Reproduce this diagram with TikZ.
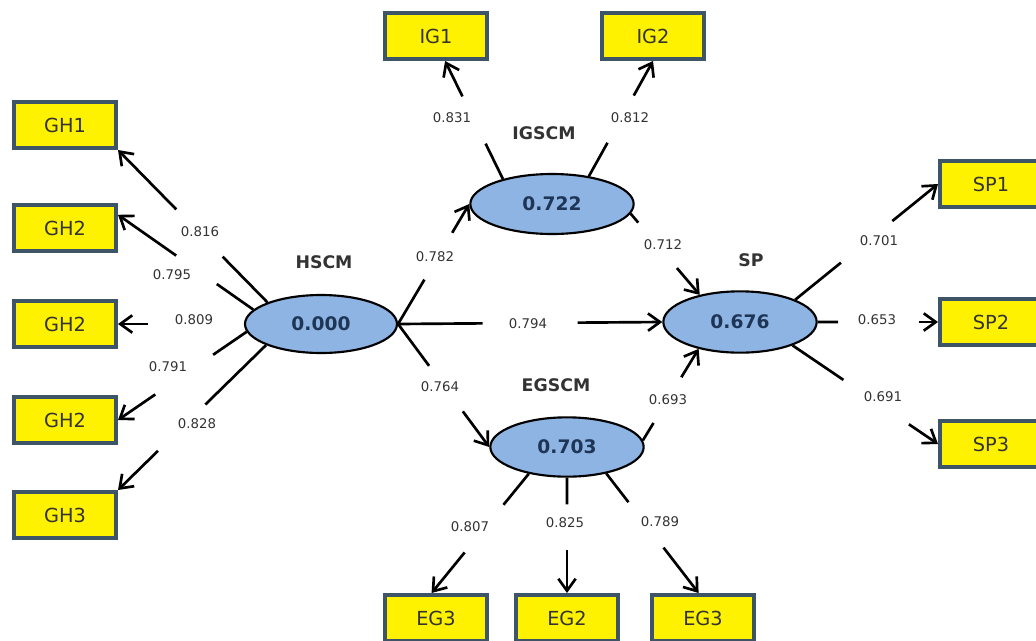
\documentclass[tikz,border=0pt]{standalone}
\usepackage{fontspec}
\setmainfont{DejaVu Sans}
\usepackage{tikz}
\usetikzlibrary{arrows.meta,shapes.geometric,calc}

\definecolor{boxline}{HTML}{3E5568}
\definecolor{latfill}{HTML}{8DB4E2}
\definecolor{latnum}{HTML}{1F3556}
\definecolor{txt}{HTML}{333333}

\newcommand{\gaplink}[4]{%
  \draw[link] (#1) -- ($(#1)!#3!(#2)$);
  \draw[link,->] ($(#1)!#4!(#2)$) -- (#2);}

\begin{document}
\begin{tikzpicture}[x=0.75pt,y=-0.75pt,
  >={Straight Barb[length=9pt,width=13pt]},
  box/.style={draw=boxline, fill=yellow, line width=3pt, minimum width=76.5pt,
    minimum height=34.5pt, inner sep=0pt, text=txt, font=\fontsize{14.5}{16}\selectfont},
  latent/.style={ellipse, draw=black, line width=1.6pt, fill=latfill, inner sep=0pt,
    text=latnum, font=\bfseries\fontsize{14}{16}\selectfont},
  latname/.style={text=txt, font=\bfseries\fontsize{13}{15}\selectfont},
  coef/.style={inner sep=0pt, text=txt, font=\fontsize{10}{12}\selectfont},
  link/.style={line width=2pt}]
\useasboundingbox (0,0) rectangle (1036,640);
\clip (0,0) rectangle (1036,640);

\node [box] (ghone) at (65,125) {GH1};
\node [box] (ghtwoa) at (65,228) {GH2};
\node [box] (ghtwob) at (65,324) {GH2};
\node [box] (ghtwoc) at (65,420) {GH2};
\node [box] (ghthree) at (65,515) {GH3};
\node [box] (igone) at (436,36) {IG1};
\node [box] (igtwo) at (653,36) {IG2};
\node [box] (egthreea) at (436,618) {EG3};
\node [box] (egtwo) at (567,618) {EG2};
\node [box] (egthreeb) at (703,618) {EG3};
\node [box] (spone) at (991,184) {SP1};
\node [box] (sptwo) at (991,322) {SP2};
\node [box] (spthree) at (991,444) {SP3};

\node [latent, minimum width=114pt, minimum height=43.5pt] (hscm) at (321,324) {0.000};
\node [latent, minimum width=122.5pt, minimum height=45pt] (igscm) at (552,204) {0.722};
\node [latent, minimum width=115pt, minimum height=44.5pt] (egscm) at (567,447) {0.703};
\node [latent, minimum width=115pt, minimum height=46pt] (sp) at (740,322) {0.676};

\node [latname] (nhscm) at (324,262) {HSCM};
\node [latname] (nigscm) at (544,133) {IGSCM};
\node [latname] (negscm) at (556,385) {EGSCM};
\node [latname] (nsp) at (751,260) {SP};

\gaplink{hscm.158}{ghone.south east}{0.30}{0.61}
\gaplink{hscm.168}{ghtwoa.14}{0.27}{0.57}
\gaplink{hscm.west}{ghtwob.east}{0}{0.76}
\gaplink{hscm.186}{ghtwoc.east}{0.26}{0.71}
\gaplink{hscm.201}{ghthree.north east}{0.41}{0.73}
\gaplink{igscm.153}{igone.-70}{0.30}{0.70}
\gaplink{igscm.37}{igtwo.south}{0.29}{0.70}
\gaplink{igscm.-7}{sp.146}{0.11}{0.67}
\gaplink{hscm.east}{igscm.west}{0.37}{0.76}
\gaplink{hscm.east}{sp.west}{0.32}{0.68}
\gaplink{hscm.east}{egscm.west}{0.34}{0.71}
\gaplink{egscm.5}{sp.213}{0.19}{0.69}
\gaplink{egscm.215}{egthreea.100}{0.26}{0.66}
\gaplink{egscm.south}{egtwo.north}{0.23}{0.63}
\gaplink{egscm.-34}{egthreeb.100}{0.24}{0.62}
\gaplink{sp.22}{spone.west}{0.32}{0.68}
\gaplink{sp.east}{sptwo.west}{0.17}{0.84}
\gaplink{sp.-24}{spthree.west}{0.35}{0.80}

\node [coef] (l816) at (200,232) {0.816};
\node [coef] (l795) at (172,275) {0.795};
\node [coef] (l809) at (194,320) {0.809};
\node [coef] (l791) at (168,367) {0.791};
\node [coef] (l828) at (197,424) {0.828};
\node [coef] (l831) at (452,118) {0.831};
\node [coef] (l812) at (630,118) {0.812};
\node [coef] (l782) at (435,257) {0.782};
\node [coef] (l712) at (663,245) {0.712};
\node [coef] (l794) at (528,324) {0.794};
\node [coef] (l764) at (440,387) {0.764};
\node [coef] (l693) at (668,400) {0.693};
\node [coef] (l807) at (470,527) {0.807};
\node [coef] (l825) at (565,523) {0.825};
\node [coef] (l789) at (660,522) {0.789};
\node [coef] (l701) at (879,241) {0.701};
\node [coef] (l653) at (877,320) {0.653};
\node [coef] (l691) at (883,397) {0.691};
\end{tikzpicture}
\end{document}
